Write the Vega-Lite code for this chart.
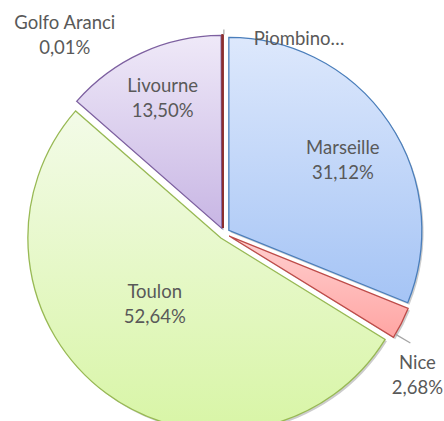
{
  "$schema": "https://vega.github.io/schema/vega-lite/v6.json",
  "width": 439.6,
  "height": 375,
  "padding": {"left": 4.4, "top": 46, "right": 0, "bottom": 0},
  "autosize": "none",
  "background": "white",
  "config": {"view": {"stroke": null}},
  "data": {
    "values": [
      {"rank": 1, "city": "Marseille", "pct": 31.12, "label": "Marseille\n31,12%"},
      {"rank": 2, "city": "Nice", "pct": 2.68, "label": "Nice\n2,68%"},
      {"rank": 3, "city": "Toulon", "pct": 52.64, "label": "Toulon\n52,64%"},
      {"rank": 4, "city": "Livourne", "pct": 13.50, "label": "Livourne\n13,50%"},
      {"rank": 5, "city": "Golfo Aranci", "pct": 0.01, "label": "Golfo Aranci\n0,01%"},
      {"rank": 6, "city": "Piombino", "pct": 0.05, "label": "Piombino…"}
    ]
  },
  "encoding": {
    "theta": {"field": "pct", "type": "quantitative", "stack": true},
    "order": {"field": "rank", "type": "quantitative"}
  },
  "layer": [
    {
      "mark": {"type": "arc", "radius": 193, "xOffset": 6.4, "yOffset": -1.1, "fill": "#000000", "fillOpacity": 0.2},
      "encoding": {"opacity": {"condition": {"test": "datum.city === 'Marseille'", "value": 1}, "value": 0}}
    },
    {
      "mark": {"type": "arc", "radius": 193, "xOffset": 6.8, "yOffset": 4.5, "fill": "#000000", "fillOpacity": 0.2},
      "encoding": {"opacity": {"condition": {"test": "datum.city === 'Nice'", "value": 1}, "value": 0}}
    },
    {
      "mark": {"type": "arc", "radius": 193, "xOffset": -1.5, "yOffset": 6.5, "fill": "#000000", "fillOpacity": 0.2},
      "encoding": {"opacity": {"condition": {"test": "datum.city === 'Toulon'", "value": 1}, "value": 0}}
    },
    {
      "mark": {"type": "arc", "radius": 193, "xOffset": -0.5, "yOffset": -3.1, "fill": "#000000", "fillOpacity": 0.2},
      "encoding": {"opacity": {"condition": {"test": "datum.city === 'Livourne'", "value": 1}, "value": 0}}
    },
    {
      "mark": {
        "type": "arc", "radius": 193, "xOffset": 4.64, "yOffset": -3.13,
        "fill": {"gradient": "linear", "x1": 0, "y1": 0, "x2": 0, "y2": 1,
          "stops": [{"offset": 0, "color": "#dde8fc"}, {"offset": 1, "color": "#a5c4f5"}]},
        "stroke": "#4a7ebb", "strokeWidth": 1.3
      },
      "encoding": {"opacity": {"condition": {"test": "datum.city === 'Marseille'", "value": 1}, "value": 0}}
    },
    {
      "mark": {
        "type": "arc", "radius": 193, "xOffset": 5.0, "yOffset": 2.53,
        "fill": {"gradient": "linear", "x1": 0, "y1": 0, "x2": 0, "y2": 1,
          "stops": [{"offset": 0, "color": "#ffd0d0"}, {"offset": 1, "color": "#ffa5a3"}]},
        "stroke": "#be4b48", "strokeWidth": 1.3
      },
      "encoding": {"opacity": {"condition": {"test": "datum.city === 'Nice'", "value": 1}, "value": 0}}
    },
    {
      "mark": {
        "type": "arc", "radius": 193, "xOffset": -3.32, "yOffset": 4.51,
        "fill": {"gradient": "linear", "x1": 0, "y1": 0, "x2": 0, "y2": 1,
          "stops": [{"offset": 0, "color": "#f3fbe8"}, {"offset": 1, "color": "#d8f5a6"}]},
        "stroke": "#98b954", "strokeWidth": 1.3
      },
      "encoding": {"opacity": {"condition": {"test": "datum.city === 'Toulon'", "value": 1}, "value": 0}}
    },
    {
      "mark": {
        "type": "arc", "radius": 193, "xOffset": -2.32, "yOffset": -5.1,
        "fill": {"gradient": "linear", "x1": 0, "y1": 0, "x2": 0, "y2": 1,
          "stops": [{"offset": 0, "color": "#efe9f8"}, {"offset": 1, "color": "#c8b6e4"}]},
        "stroke": "#7d60a0", "strokeWidth": 1.3
      },
      "encoding": {"opacity": {"condition": {"test": "datum.city === 'Livourne'", "value": 1}, "value": 0}}
    },
    {
      "mark": {
        "type": "arc", "radius": 193, "xOffset": -1.2, "yOffset": -5.4,
        "fill": "#8b2e2e", "stroke": "#8b2e2e", "strokeWidth": 1.8
      },
      "encoding": {"opacity": {"condition": {"test": "datum.city === 'Golfo Aranci' || datum.city === 'Piombino'", "value": 1}, "value": 0}}
    },
    {
      "mark": {"type": "arc", "innerRadius": 199, "outerRadius": 216, "padAngle": 1.2, "thetaOffset": 0.063,
        "stroke": "#a6a6a6", "strokeWidth": 1.3, "fill": "#a6a6a6"},
      "encoding": {"opacity": {"condition": {"test": "datum.city === 'Nice'", "value": 1}, "value": 0}}
    },
    {
      "mark": {"type": "arc", "innerRadius": 199, "outerRadius": 204, "padAngle": 1.2,
        "stroke": "#a6a6a6", "strokeWidth": 1.2, "fill": "#a6a6a6"},
      "encoding": {"opacity": {"condition": {"test": "datum.city === 'Piombino'", "value": 1}, "value": 0}}
    },
    {
      "mark": {"type": "text", "radius": 139.3, "thetaOffset": 0.042, "dy": -12.5, "lineBreak": "\n", "lineHeight": 25,
        "font": "Lato", "fontSize": 18.5, "color": "#595959", "align": "center", "baseline": "middle"},
      "encoding": {"text": {"field": "label"}, "opacity": {"condition": {"test": "datum.city === 'Marseille'", "value": 1}, "value": 0}}
    },
    {
      "mark": {"type": "text", "radius": 148.4, "thetaOffset": 0, "dy": -12.5, "lineBreak": "\n", "lineHeight": 25,
        "font": "Lato", "fontSize": 18.5, "color": "#595959", "align": "center", "baseline": "middle"},
      "encoding": {"text": {"field": "label"}, "opacity": {"condition": {"test": "datum.city === 'Livourne'", "value": 1}, "value": 0}}
    },
    {
      "mark": {"type": "text", "radius": 99.2, "thetaOffset": 0.14, "dy": -12.5, "lineBreak": "\n", "lineHeight": 25,
        "font": "Lato", "fontSize": 18.5, "color": "#595959", "align": "center", "baseline": "middle"},
      "encoding": {"text": {"field": "label"}, "opacity": {"condition": {"test": "datum.city === 'Toulon'", "value": 1}, "value": 0}}
    },
    {
      "mark": {"type": "text", "radius": 239.6, "thetaOffset": 0.164, "dy": -12.5, "lineBreak": "\n", "lineHeight": 25,
        "font": "Lato", "fontSize": 18.5, "color": "#595959", "align": "center", "baseline": "middle"},
      "encoding": {"text": {"field": "label"}, "opacity": {"condition": {"test": "datum.city === 'Nice'", "value": 1}, "value": 0}}
    },
    {
      "mark": {"type": "text", "radius": 254.3, "thetaOffset": -0.674, "dy": -12.5, "lineBreak": "\n", "lineHeight": 25,
        "font": "Lato", "fontSize": 18.5, "color": "#595959", "align": "center", "baseline": "middle"},
      "encoding": {"text": {"field": "label"}, "opacity": {"condition": {"test": "datum.city === 'Golfo Aranci'", "value": 1}, "value": 0}}
    },
    {
      "mark": {"type": "text", "radius": 196.8, "thetaOffset": 0.1525, "lineBreak": "\n", "lineHeight": 25,
        "font": "Lato", "fontSize": 18.5, "color": "#595959", "align": "left", "baseline": "middle"},
      "encoding": {"text": {"field": "label"}, "opacity": {"condition": {"test": "datum.city === 'Piombino'", "value": 1}, "value": 0}}
    }
  ]
}
